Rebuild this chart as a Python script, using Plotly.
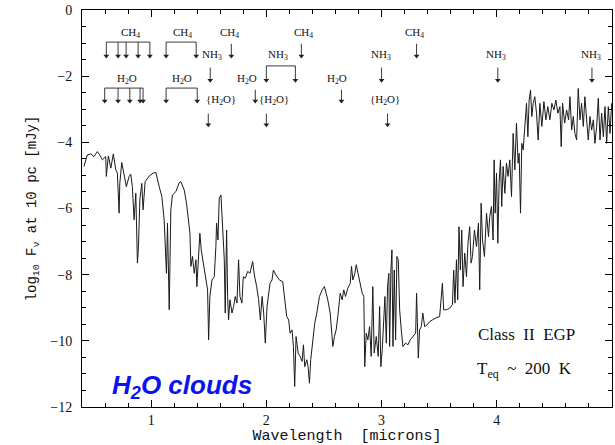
import plotly.graph_objects as go

# ---------------- data ----------------
wavelength = [
    0.417, 0.446, 0.476, 0.504, 0.533, 0.554, 0.577, 0.606, 0.611, 0.629,
    0.650, 0.672, 0.693, 0.707, 0.722, 0.728, 0.745, 0.765, 0.785, 0.809,
    0.823, 0.837, 0.852, 0.867, 0.881, 0.890, 0.902, 0.919, 0.930, 0.948,
    0.983, 1.017, 1.041, 1.070, 1.093, 1.113, 1.122, 1.133, 1.142, 1.151,
    1.157, 1.171, 1.185, 1.215, 1.243, 1.258, 1.287, 1.307, 1.324, 1.337,
    1.345, 1.359, 1.374, 1.389, 1.397, 1.411, 1.423, 1.435, 1.452, 1.470,
    1.490, 1.499, 1.510, 1.528, 1.548, 1.562, 1.568, 1.580, 1.591, 1.606,
    1.615, 1.626, 1.635, 1.643, 1.655, 1.664, 1.672, 1.684, 1.702, 1.716,
    1.730, 1.745, 1.759, 1.771, 1.788, 1.800, 1.817, 1.838, 1.858, 1.881,
    1.896, 1.916, 1.933, 1.948, 1.963, 1.977, 1.991, 2.006, 2.020, 2.032,
    2.049, 2.061, 2.084, 2.113, 2.142, 2.159, 2.177, 2.194, 2.206, 2.223,
    2.235, 2.246, 2.258, 2.276, 2.293, 2.310, 2.322, 2.333, 2.351, 2.362,
    2.374, 2.385, 2.403, 2.420, 2.438, 2.461, 2.484, 2.504, 2.519, 2.533,
    2.554, 2.565, 2.577, 2.591, 2.606, 2.620, 2.641, 2.658, 2.672, 2.687,
    2.707, 2.728, 2.739, 2.751, 2.768, 2.780, 2.797, 2.814, 2.832, 2.846,
    2.854, 2.867, 2.881, 2.896, 2.910, 2.924, 2.936, 2.954, 2.971, 2.983,
    2.994, 3.006, 3.017, 3.029, 3.041, 3.052, 3.063, 3.070, 3.081, 3.090,
    3.099, 3.110, 3.122, 3.133, 3.145, 3.157, 3.171, 3.185, 3.209, 3.229,
    3.249, 3.272, 3.296, 3.304, 3.313, 3.319, 3.330, 3.345, 3.358, 3.374,
    3.394, 3.417, 3.440, 3.461, 3.481, 3.504, 3.528, 3.539, 3.563, 3.591,
    3.615, 3.626, 3.637, 3.650, 3.661, 3.672, 3.684, 3.696, 3.707, 3.722,
    3.737, 3.750, 3.765, 3.777, 3.789, 3.806, 3.824, 3.841, 3.852, 3.864,
    3.876, 3.893, 3.911, 3.928, 3.939, 3.954, 3.968, 3.977, 3.986, 3.998,
    4.009, 4.020, 4.032, 4.043, 4.055, 4.070, 4.084, 4.098, 4.113, 4.128,
    4.142, 4.157, 4.171, 4.185, 4.194, 4.206, 4.217, 4.229, 4.243, 4.258,
    4.270, 4.281, 4.293, 4.304, 4.316, 4.330, 4.345, 4.359, 4.374, 4.391,
    4.409, 4.426, 4.443, 4.461, 4.478, 4.496, 4.513, 4.530, 4.548, 4.559,
    4.571, 4.589, 4.606, 4.623, 4.635, 4.650, 4.664, 4.678, 4.693, 4.707,
    4.722, 4.736, 4.751, 4.765, 4.780, 4.794, 4.809, 4.823, 4.838, 4.852,
    4.867, 4.881, 4.896, 4.910, 4.925, 4.939, 4.954, 4.968, 4.983, 4.997,
]
log_flux = [
    -4.73, -4.38, -4.35, -4.43, -4.28, -4.38, -4.53, -4.43, -5.03, -4.41,
    -4.78, -4.35, -4.83, -4.93, -6.14, -5.24, -4.61, -4.93, -5.34, -5.03,
    -4.96, -5.34, -6.34, -5.54, -7.65, -7.15, -5.74, -5.24, -6.04, -5.19,
    -5.02, -4.93, -4.91, -5.34, -5.64, -6.34, -6.95, -7.96, -6.44, -7.75,
    -9.06, -6.04, -5.59, -5.49, -5.22, -5.19, -5.44, -5.84, -6.34, -6.75,
    -7.75, -7.45, -7.96, -7.55, -8.36, -7.25, -6.75, -7.25, -7.65, -8.06,
    -8.46, -9.97, -8.66, -8.16, -8.06, -7.15, -6.44, -6.95, -5.69, -5.59,
    -6.14, -6.95, -7.55, -9.16, -6.65, -8.66, -9.37, -8.76, -9.16, -8.96,
    -8.66, -8.86, -7.55, -8.66, -8.86, -8.06, -8.11, -7.90, -7.96, -7.60,
    -8.01, -8.36, -8.76, -9.37, -8.66, -9.16, -10.07, -8.96, -8.56, -8.26,
    -8.16, -7.86, -8.01, -8.16, -8.21, -8.76, -9.27, -9.37, -9.77, -9.67,
    -10.17, -11.38, -9.87, -10.37, -10.47, -10.62, -10.12, -10.78, -10.57, -10.78,
    -11.28, -10.57, -9.97, -9.47, -9.16, -8.66, -8.46, -8.36, -8.56, -8.76,
    -9.16, -9.77, -10.17, -9.87, -9.67, -9.27, -8.56, -8.76, -8.46, -8.66,
    -8.41, -8.26, -7.75, -8.16, -7.96, -7.70, -7.96, -8.26, -8.56, -8.66,
    -10.78, -9.77, -9.97, -9.57, -10.47, -8.36, -10.37, -9.87, -10.47, -8.96,
    -10.78, -10.27, -9.47, -8.66, -10.07, -8.36, -7.96, -10.17, -7.86, -7.25,
    -10.17, -7.86, -9.97, -7.45, -7.55, -9.06, -9.67, -10.17, -10.07, -10.12,
    -9.97, -9.87, -9.77, -8.56, -9.87, -10.52, -9.67, -9.57, -9.16, -9.57,
    -9.52, -9.42, -9.37, -9.32, -9.29, -9.27, -8.26, -9.06, -9.06, -9.01,
    -8.91, -7.86, -8.86, -7.55, -8.76, -6.55, -7.86, -6.65, -8.36, -7.35,
    -8.06, -7.05, -6.55, -7.65, -7.45, -6.65, -7.15, -6.44, -8.46, -5.84,
    -6.95, -7.45, -6.14, -6.85, -6.24, -5.94, -6.95, -4.53, -6.14, -4.93,
    -7.05, -5.24, -4.53, -5.94, -4.73, -5.54, -4.63, -5.03, -4.53, -5.64,
    -3.73, -4.83, -3.42, -4.63, -4.33, -6.14, -4.03, -4.23, -3.63, -2.82,
    -3.83, -2.72, -2.42, -3.22, -2.82, -2.62, -3.12, -3.93, -2.82, -3.52,
    -2.77, -3.32, -2.92, -3.32, -2.82, -3.02, -2.72, -3.12, -2.92, -4.13,
    -2.82, -3.42, -3.02, -3.32, -2.62, -3.63, -3.22, -3.73, -3.93, -2.37,
    -3.32, -2.82, -3.52, -2.62, -3.32, -3.93, -3.22, -3.63, -3.32, -4.03,
    -3.52, -2.67, -3.93, -3.12, -3.83, -2.92, -4.03, -2.92, -3.73, -2.82,
]

x_tick_vals = [1, 2, 3, 4, 5]
x_tick_text = ["1", "2", "3", "4", "5"]
y_tick_vals = [0, -2, -4, -6, -8, -10, -12]
y_tick_text = ["0", "\u22122", "\u22124", "\u22126", "\u22128", "\u221210", "\u221212"]

# molecular band wavelengths (microns)
ch4_group1 = [0.611, 0.713, 0.783, 0.887, 0.989]
ch4_group2 = [1.130, 1.391]
ch4_single = [1.696, 2.304, 3.304]
ch4_label_x = [0.823, 1.272, 1.678, 2.322, 3.287]

nh3_group = [2.000, 2.252]
nh3_single = [1.513, 3.000, 4.009, 4.826]
nh3_label_x = [1.530, 2.104, 2.991, 3.990, 4.817]

h2o_group1 = [0.597, 0.713, 0.815, 0.904, 0.930]
h2o_group2 = [1.130, 1.400]
h2o_single = [1.904, 2.652]
h2o_label_x = [0.791, 1.270, 1.835, 2.617]

h2o_cloud_bands = [1.496, 2.000, 3.052]
h2o_cloud_label_x = [1.609, 2.070, 3.026]

# ---------------- figure ----------------
SERIF = "Liberation Serif"
MONO = "Liberation Mono"
INK = "#222222"

fig = go.Figure()
fig.add_trace(go.Scatter(
    x=wavelength, y=log_flux, mode="lines",
    line=dict(color="#1a1a1a", width=1), hoverinfo="skip", showlegend=False,
))

annotations = []
shapes = []
tips_x, tips_y = [], []

# row levels (data units on the y axis)
ROWS = {
    "CH4": dict(label=-0.69, bar=-0.97, tip=-1.45),
    "NH3": dict(label=-1.36, bar=-1.69, tip=-2.18),
    "H2O": dict(label=-2.08, bar=-2.36, tip=-2.81),
    "CLD": dict(label=-2.72, bar=-3.08, tip=-3.53),
}


def arrow(xv, y0, y1):
    shapes.append(dict(type="line", xref="x", yref="y", x0=xv, x1=xv,
                       y0=y0, y1=y1 + 0.08, line=dict(color=INK, width=0.9)))
    tips_x.append(xv)
    tips_y.append(y1 + 0.06)


def label(xv, yv, txt):
    annotations.append(dict(
        x=xv, y=yv, xref="x", yref="y", text=txt, showarrow=False,
        font=dict(family=SERIF, size=11, color="#111"),
    ))


def group(xs, row):
    r = ROWS[row]
    shapes.append(dict(type="line", xref="x", yref="y", x0=min(xs), x1=max(xs),
                       y0=r["bar"], y1=r["bar"], line=dict(color=INK, width=0.9)))
    for xv in xs:
        arrow(xv, r["bar"], r["tip"])


def single(xv, row):
    r = ROWS[row]
    arrow(xv, r["bar"] - 0.05, r["tip"])


CH4 = "CH<sub>4</sub>"
NH3 = "NH<sub>3</sub>"
H2O = "H<sub>2</sub>O"
CLD = "{H<sub>2</sub>O}"

group(ch4_group1, "CH4")
group(ch4_group2, "CH4")
for v in ch4_single:
    single(v, "CH4")
for v in ch4_label_x:
    label(v, ROWS["CH4"]["label"], CH4)

group(nh3_group, "NH3")
for v in nh3_single:
    single(v, "NH3")
for v in nh3_label_x:
    label(v, ROWS["NH3"]["label"], NH3)

group(h2o_group1, "H2O")
group(h2o_group2, "H2O")
for v in h2o_single:
    single(v, "H2O")
for v in h2o_label_x:
    label(v, ROWS["H2O"]["label"], H2O)

for v in h2o_cloud_bands:
    single(v, "CLD")
for v in h2o_cloud_label_x:
    label(v, ROWS["CLD"]["label"], CLD)

# arrowheads
fig.add_trace(go.Scatter(
    x=tips_x, y=tips_y, mode="markers",
    marker=dict(symbol="triangle-down", size=5, color=INK, line=dict(width=0)),
    hoverinfo="skip", showlegend=False,
))

annotations.append(dict(
    x=4.26, y=-9.82, xref="x", yref="y", text="Class  II  EGP", showarrow=False,
    font=dict(family=SERIF, size=17, color="#111"),
))
annotations.append(dict(
    x=4.24, y=-10.88, xref="x", yref="y", text="T<sub>eq</sub>  ~  200  K", showarrow=False,
    font=dict(family=SERIF, size=17, color="#111"),
))
annotations.append(dict(
    x=0.0, y=0.0, xref="paper", yref="paper", xanchor="left", yanchor="bottom",
    xshift=28, yshift=2,
    text="<b><i>H<sub>2</sub>O clouds</i></b>", showarrow=False,
    font=dict(family="Liberation Sans", size=26, color="#0a14f0"),
))

axis_common = dict(
    showline=True, linecolor="black", linewidth=1, mirror="ticks",
    ticks="inside", tickcolor="black", tickwidth=1, showgrid=False, zeroline=False,
    tickfont=dict(family=SERIF, size=14, color="#111"),
)

fig.update_layout(
    width=615, height=445,
    margin=dict(l=82, r=3, t=10, b=38),
    paper_bgcolor="white", plot_bgcolor="white",
    xaxis=dict(
        range=[0.4, 5.0], tickvals=x_tick_vals, ticktext=x_tick_text, ticklen=7,
        minor=dict(dtick=0.2, tick0=0, ticklen=4, ticks="inside", tickcolor="black"),
        title=dict(text="Wavelength  [microns]", standoff=4,
                   font=dict(family=MONO, size=15, color="#111")),
        **axis_common,
    ),
    yaxis=dict(
        range=[-12, 0], tickvals=y_tick_vals, ticktext=y_tick_text, ticklen=7,
        minor=dict(dtick=0.5, tick0=0, ticklen=4, ticks="inside", tickcolor="black"),
        ticklabelstandoff=6,
        title=dict(text="log<sub>10</sub> F<sub>\u03bd</sub> at 10 pc [mJy]", standoff=10,
                   font=dict(family=MONO, size=14, color="#111")),
        **axis_common,
    ),
    annotations=annotations,
    shapes=shapes,
)

fig.write_html("out.html")
